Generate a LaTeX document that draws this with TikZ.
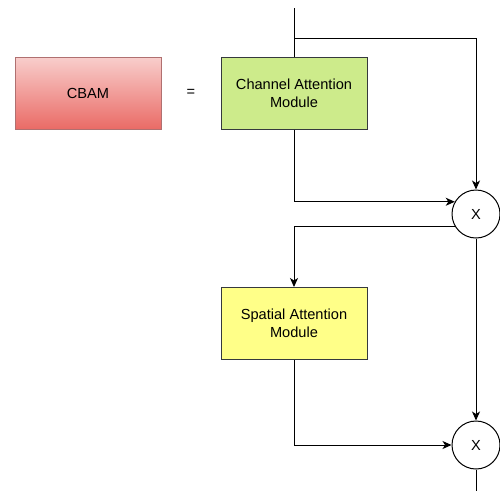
\documentclass[tikz,border=0pt]{standalone}
\usepackage{fontspec}
\setmainfont{Liberation Sans}
\usetikzlibrary{arrows.meta}
\definecolor{cbamtop}{HTML}{F8CECC}
\definecolor{cbambot}{HTML}{EA6B66}
\definecolor{cbamline}{HTML}{B07070}
\definecolor{camfill}{HTML}{CDEB8B}
\definecolor{samfill}{HTML}{FFFF88}
\definecolor{boxline}{HTML}{36393D}
\tikzset{
  module/.style={rectangle, minimum width=146pt, minimum height=72pt, inner sep=2pt,
    align=center, line width=1pt, font=\fontsize{14.6}{18}\selectfont},
  mult/.style={circle, draw=black, fill=white, line width=1pt, minimum size=48pt,
    inner sep=0pt, font=\fontsize{14.6}{18}\selectfont},
  wire/.style={draw=black, line width=1pt},
  arr/.style={wire, -{Stealth[length=9pt,width=8pt,inset=2.5pt]}}
}
\begin{document}
\begin{tikzpicture}[x=1pt,y=-1pt]
\useasboundingbox (0,0) rectangle (500,491);
% left-hand legend
\node[module, top color=cbamtop, bottom color=cbambot, draw=cbamline] (cbam) at (88,93) {CBAM};
\node[font=\fontsize{14.6}{18}\selectfont] (eq) at (191,93) {=};
% attention blocks
\node[module, fill=camfill, draw=boxline] (cam) at (294,93) {Channel Attention\\Module};
\node[module, fill=samfill, draw=boxline] (sam) at (294,323.5) {Spatial Attention\\Module};
% element-wise products
\node[mult] (m1) at (476,214) {X};
\node[mult] (m2) at (476,445) {X};
% free ends and branch point
\coordinate (in) at (294,8);
\coordinate (split) at (294,38);
\coordinate (out) at (476,491);
% connectors
\draw[wire] (in) -- (cam.north);
\draw[arr] (split) -| (m1.north);
\draw[arr] (cam.south) |- (m1.150);
\draw[arr] (m1.210) -| (sam.north);
\draw[arr] (m1.south) -- (m2.north);
\draw[arr] (sam.south) |- (m2.west);
\draw[wire] (m2.south) -- (out);
\end{tikzpicture}
\end{document}
